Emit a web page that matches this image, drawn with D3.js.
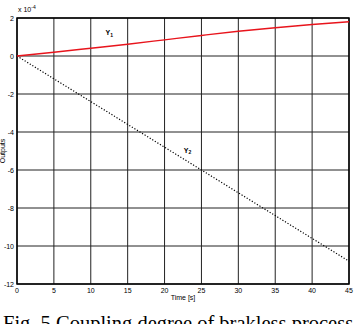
<!DOCTYPE html>
<html>
<head>
<meta charset="utf-8">
<script src="https://cdn.jsdelivr.net/npm/d3@7"></script>
<style>
  body { margin: 0; background: #fff; overflow: hidden; }
  svg { display: block; }
</style>
</head>
<body>
<svg id="chart" width="356" height="324"></svg>
<script>
// data
const timeVals = [0, 5, 10, 15, 20, 25, 30, 35, 40, 45]
const y1Vals = [0, 0.2, 0.41, 0.62, 0.85, 1.08, 1.3, 1.49, 1.66, 1.8]
const y2Vals = [0, -1.2, -2.4, -3.6, -4.8, -6.0, -7.2, -8.4, -9.6, -10.8]
const xTicks = [0, 5, 10, 15, 20, 25, 30, 35, 40, 45]
const yTicks = [2, 0, -2, -4, -6, -8, -10, -12]

const svg = d3.select('#chart')
const plotL = 17, plotR = 349, plotT = 18, plotB = 284

let x = d3.scaleLinear().domain([0, 45]).range([plotL, plotR])
let y = d3.scaleLinear().domain([-12, 2]).range([plotB, plotT])

// grid
svg.append('g')
  .selectAll('line')
  .data(xTicks)
  .enter()
  .append('line')
  .attr('x1', (d) => x(d)).attr('x2', (d) => x(d))
  .attr('y1', plotT).attr('y2', plotB)
  .attr('stroke', '#222').attr('stroke-width', 1)

svg.append('g')
  .selectAll('line')
  .data(yTicks)
  .enter()
  .append('line')
  .attr('x1', plotL).attr('x2', plotR)
  .attr('y1', (d) => y(d)).attr('y2', (d) => y(d))
  .attr('stroke', '#222').attr('stroke-width', 1)

// frame
svg.append('rect')
  .attr('x', plotL).attr('y', plotT)
  .attr('width', plotR - plotL).attr('height', plotB - plotT)
  .attr('fill', 'none').attr('stroke', '#000').attr('stroke-width', 1.5)

// tick labels
svg.append('g')
  .selectAll('text')
  .data(xTicks)
  .enter()
  .append('text')
  .attr('x', (d) => x(d)).attr('y', plotB + 9)
  .attr('text-anchor', 'middle')
  .style('font', '7px Arial, "Liberation Sans", sans-serif')
  .text((d) => d)

svg.append('g')
  .selectAll('text')
  .data(yTicks)
  .enter()
  .append('text')
  .attr('x', plotL - 3).attr('y', (d) => y(d) + 2.5)
  .attr('text-anchor', 'end')
  .style('font', '7px Arial, "Liberation Sans", sans-serif')
  .text((d) => d)

// exponent label
let expo = svg.append('text')
  .attr('x', plotL + 1).attr('y', plotT - 6)
  .style('font', '7px Arial, "Liberation Sans", sans-serif')
expo.append('tspan').text('x 10')
expo.append('tspan').attr('dy', -3).style('font-size', '5px').text('-4')

// axis titles
svg.append('text')
  .attr('x', (plotL + plotR) / 2).attr('y', plotB + 15.5)
  .attr('text-anchor', 'middle')
  .style('font', '7px Arial, "Liberation Sans", sans-serif')
  .text('Time [s]')

svg.append('text')
  .attr('transform', `translate(5,${(plotT + plotB) / 2}) rotate(-90)`)
  .attr('text-anchor', 'middle')
  .style('font', '7px Arial, "Liberation Sans", sans-serif')
  .text('Outputs')

// series
let y1Data = timeVals.map((t, i) => ({ t: t, v: y1Vals[i] }))
let y2Data = timeVals.map((t, i) => ({ t: t, v: y2Vals[i] }))
let line = d3.line().x((d) => x(d.t)).y((d) => y(d.v)).curve(d3.curveMonotoneX)

svg.append('path')
  .datum(y2Data)
  .attr('d', line)
  .attr('fill', 'none')
  .attr('stroke', '#000')
  .attr('stroke-width', 1.2)
  .style('stroke-dasharray', '1.2, 1.8')

svg.append('path')
  .datum(y1Data)
  .attr('d', line)
  .attr('fill', 'none')
  .attr('stroke', '#e8141c')
  .attr('stroke-width', 1.4)

// series labels
function seriesLabel(tx, ty, sub) {
  let t = svg.append('text')
    .attr('x', x(tx)).attr('y', y(ty))
    .style('font', 'bold 7px Arial, "Liberation Sans", sans-serif')
  t.append('tspan').text('Y')
  t.append('tspan').attr('dy', 1.5).style('font-size', '5px').text(sub)
}
seriesLabel(12.0, 1.1, '1')
seriesLabel(22.6, -5.1, '2')

// caption (cut off at bottom edge, as in the source)
svg.append('text')
  .attr('x', 3).attr('y', 330)
  .style('font', '20.5px "Liberation Serif", "Times New Roman", serif')
  .text('Fig. 5 Coupling degree of brakless process')
</script>
</body>
</html>
